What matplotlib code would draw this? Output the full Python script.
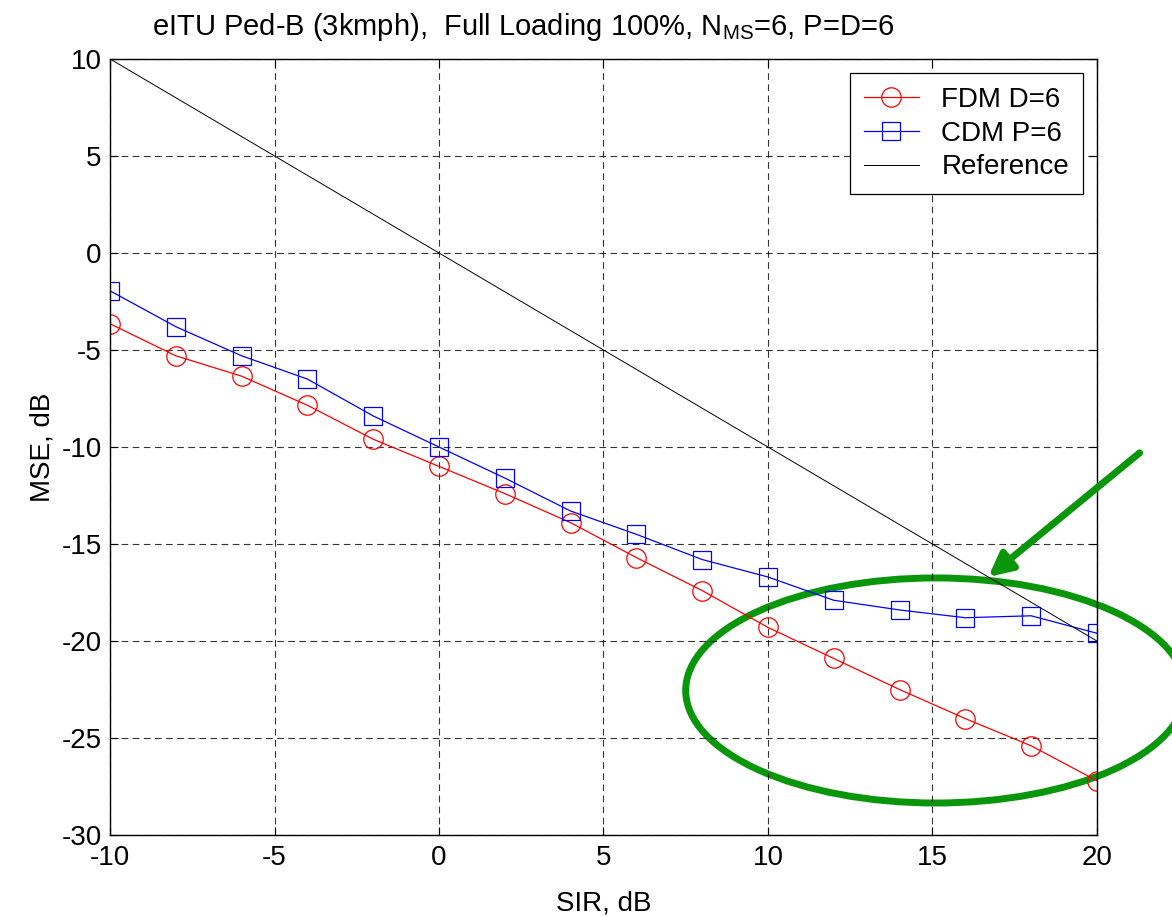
import matplotlib
matplotlib.use("Agg")
import matplotlib.pyplot as plt
from matplotlib.patches import Ellipse

plt.rcParams['font.family'] = ['Liberation Sans', 'DejaVu Sans']
plt.rcParams['mathtext.fontset'] = 'custom'
plt.rcParams['mathtext.rm'] = 'Liberation Sans'
plt.rcParams['axes.unicode_minus'] = False

# data
sir = [-10, -8, -6, -4, -2, 0, 2, 4, 6, 8, 10, 12, 14, 16, 18, 20]
fdm = [-3.65, -5.3, -6.35, -7.85, -9.6, -11.0, -12.4, -13.9, -15.7, -17.4,
       -19.3, -20.9, -22.5, -24.0, -25.4, -27.2]
cdm = [-1.95, -3.8, -5.3, -6.5, -8.4, -10.0, -11.6, -13.3, -14.5, -15.8,
       -16.7, -17.9, -18.4, -18.8, -18.7, -19.6]
ref_x = [-10, 20]
ref_y = [10, -20]

xticks = [-10, -5, 0, 5, 10, 15, 20]
yticks = [-30, -25, -20, -15, -10, -5, 0, 5, 10]

green = '#0a960a'
fs = 20

fig = plt.figure(figsize=(11.72, 9.17), dpi=100)
ax = fig.add_axes([0.0939, 0.0894, 0.842, 0.8463])

ax.plot(sir, fdm, 'r-o', lw=0.9, ms=14, mfc='none', mew=0.9, label='FDM D=6')
ax.plot(sir, cdm, 'b-s', lw=0.9, ms=12.5, mfc='none', mew=0.9, label='CDM P=6')
ax.plot(ref_x, ref_y, 'k-', lw=0.7, label='Reference')

ax.set_xlim(-10, 20)
ax.set_ylim(-30, 10)
ax.set_xticks(xticks)
ax.set_yticks(yticks)
ax.tick_params(direction='in', length=6, width=0.8, top=True, right=True,
               labelsize=fs)
ax.tick_params(axis='x', pad=7)
ax.tick_params(axis='y', pad=6)
ax.grid(True, color='k', ls=(0, (6, 4)), lw=0.8, alpha=0.8)
for s in ax.spines.values():
    s.set_linewidth(1.0)

ax.set_xlabel('SIR, dB', fontsize=fs, labelpad=14)
ax.set_ylabel('MSE, dB', fontsize=fs, labelpad=4)
# title sits left of centre in the original
ax.set_title(r'eITU Ped-B (3kmph),  Full Loading 100%, N$_{\mathrm{MS}}$=6, P=D=6',
             fontsize=21, loc='left', x=0.0426, pad=17)

leg = ax.legend(loc='upper right', fontsize=fs, frameon=True, fancybox=False,
                edgecolor='k', framealpha=1, borderaxespad=0.5,
                handlelength=2.0, handletextpad=0.8, labelspacing=0.28,
                borderpad=0.5)
leg.get_frame().set_linewidth(0.9)

# green annotation
ell = Ellipse((15.1, -22.55), 15.2, 11.6, fill=False, ec=green, lw=5, clip_on=False)
ax.add_patch(ell)
ax.annotate('', xy=(16.7, -16.7), xytext=(21.3, -10.3),
            arrowprops=dict(arrowstyle='-|>,head_length=1.4,head_width=0.7',
                            color=green, lw=5, shrinkA=0, shrinkB=0),
            annotation_clip=False)

fig.savefig('out.png', dpi=100)
